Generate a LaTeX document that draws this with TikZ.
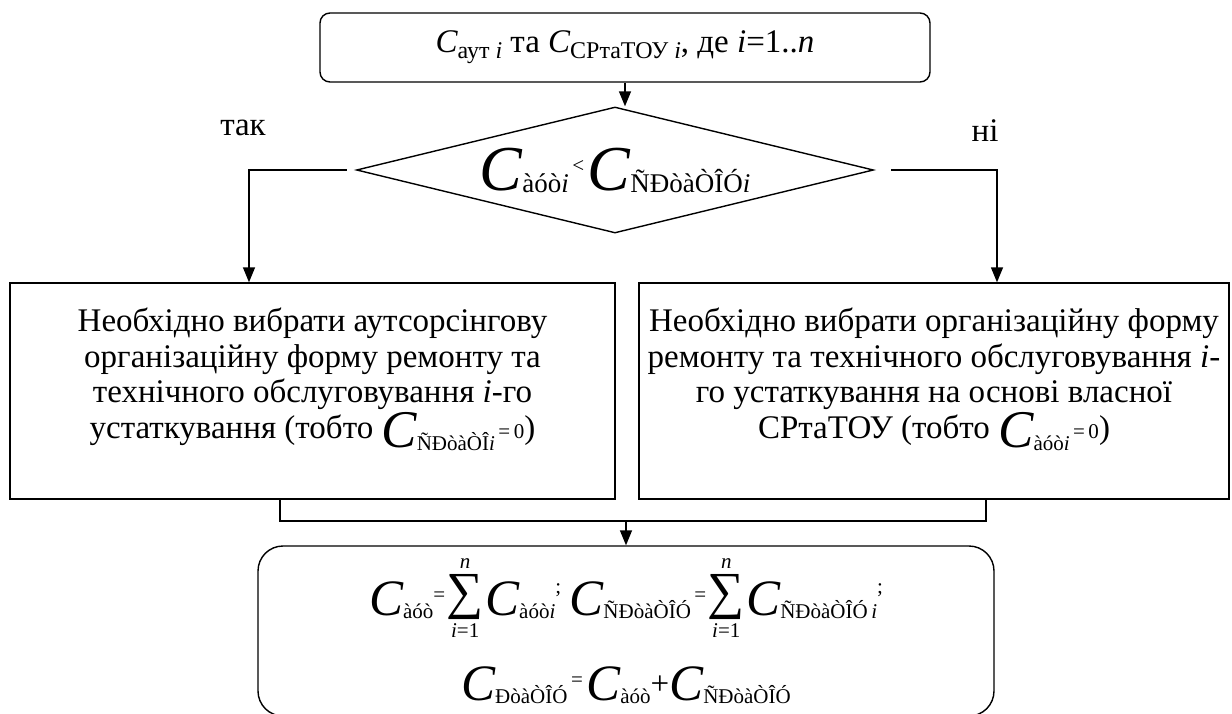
\documentclass[tikz,border=0pt]{standalone}
\usepackage{fontspec}
\setmainfont{Liberation Serif}
\usetikzlibrary{shapes.geometric,arrows.meta}

\newcommand{\fs}{\fontsize{21}{21}\selectfont}
\newcommand{\Cbig}[1][51]{{\fontsize{#1}{#1}\selectfont\itshape C}}
\newcommand{\sub}[2][-3pt]{\raisebox{#1}{\fs #2}}
\newcommand{\sumblock}{%
  \makebox[40pt][c]{\raisebox{7pt}{\fontsize{52}{52}\selectfont ∑}}%
  \llap{\makebox[40pt][c]{\raisebox{47pt}{\fs\textit{n}}}}%
  \llap{\makebox[40pt][c]{\raisebox{-22pt}{\fs\textit{i}=1}}}}

\begin{document}
\begin{tikzpicture}[x=1pt, y=-1pt, line width=1.4pt, font=\fontsize{33}{35.5}\selectfont,
    block/.style={draw, align=center, inner sep=0pt},
    flow/.style={-{Triangle[width=12pt,length=15pt]}}]
    \useasboundingbox (0,0) rectangle (1232,713);

    % Input data
    \node[block, rounded corners=10pt, minimum width=610pt, minimum height=69pt] (input) at (625,47.5)
        {{\itshape C}\raisebox{-6pt}{\fontsize{24}{24}\selectfont аут \textit{i}} та
         {\itshape C}\raisebox{-6pt}{\fontsize{24}{24}\selectfont СРтаТОУ \textit{i}}, де \textit{i}=1..\textit{n}};

    % Comparison
    \node[block, diamond, aspect=4, minimum width=517pt, minimum height=126pt] (cmp) at (615,170)
        {\Cbig[64]\sub[-2pt]{\fontsize{27}{27}\selectfont àóò\textit{i}}\raisebox{18pt}{\fs\,<\,}%
         \Cbig[64]\sub[-2pt]{\fontsize{27}{27}\selectfont ÑÐòàÒÎÓ\textit{i}}};
    \node (yes) at (243,128) {так};
    \node (no) at (985,131) {ні};

    % Decisions
    \node[block, minimum width=605pt, minimum height=216pt] (outsrc) at (312.5,391)
        {Необхідно вибрати аутсорсінгову\\ організаційну форму ремонту та\\
         технічного обслуговування \textit{i}-го\\
         устаткування (тобто \raisebox{-9pt}{\Cbig[53]\sub{ÑÐòàÒÎ\textit{i}}}\sub[0pt]{\,=\,0})\\ \mbox{}};
    \node[block, minimum width=590pt, minimum height=216pt] (own) at (934,391)
        {Необхідно вибрати організаційну форму\\ ремонту та технічного обслуговування \textit{i}-\\
         го устаткування на основі власної\\
         СРтаТОУ (тобто \raisebox{-9pt}{\Cbig[53]\sub{àóò\textit{i}}}\sub[0pt]{\,=\,0})\\ \mbox{}};

    % Totals
    \node[block, rounded corners=25pt, minimum width=736pt, minimum height=170pt] (total) at (626,631)
        {\Cbig\sub{àóò}\raisebox{14pt}{\fs=}\sumblock\Cbig\sub{àóò\textit{i}}\raisebox{22pt}{\fs;}\ %
         \Cbig\sub{ÑÐòàÒÎÓ}\raisebox{14pt}{\fs\,=}\sumblock\Cbig\sub{ÑÐòàÒÎÓ\,\textit{i}}\raisebox{22pt}{\fs;}\\[28pt]
         \Cbig\sub{ÐòàÒÎÓ}\raisebox{14pt}{\fs\,=\,}\Cbig\sub{àóò}\raisebox{6pt}{+}\Cbig\sub{ÑÐòàÒÎÓ}};

    % Connectors
    \coordinate (yesturn) at (249,170);
    \coordinate (noturn) at (997,170);
    \coordinate (joinL) at (280,521);
    \coordinate (joinR) at (986,521);
    \draw[flow] (input.south) -- (input.south |- cmp.north);
    \draw[flow] ([xshift=-9pt]cmp.west) -- (yesturn) -- (yesturn |- outsrc.north);
    \draw[flow] ([xshift=17pt]cmp.east) -- (noturn) -- (noturn |- own.north);
    \draw (joinL |- outsrc.south) -- (joinL) -- (joinR) -- (joinR |- own.south);
    \draw[flow] (total.north |- joinL) -- (total.north);
\end{tikzpicture}
\end{document}
